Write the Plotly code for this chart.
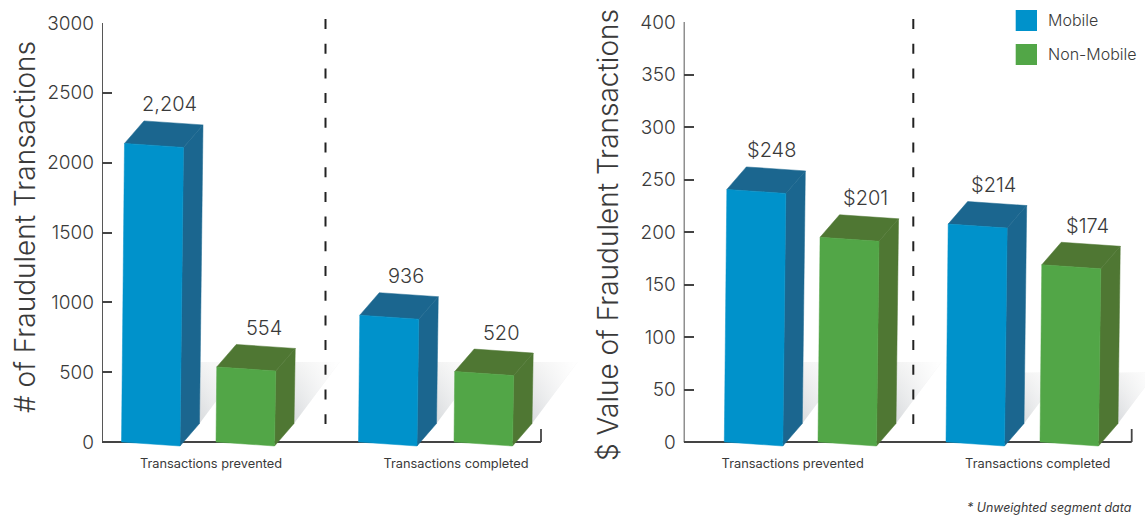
import plotly.graph_objects as go

# Data
categories = ["Transactions prevented", "Transactions completed"]
series_names = ["Mobile", "Non-Mobile"]
count_mobile = [2204, 936]
count_non_mobile = [554, 520]
value_mobile = [248, 214]
value_non_mobile = [201, 174]
count_ticks = [0, 500, 1000, 1500, 2000, 2500, 3000]
value_ticks = [0, 50, 100, 150, 200, 250, 300, 350, 400]
count_title = "# of Fraudulent Transactions"
value_title = "$ Value of Fraudulent Transactions"
footnote = "* Unweighted segment data"

# Page and styling
W, H = 1145, 517
FONT = "Inter"
TEXT = "#3a3a3a"
AXIS = "#444444"
FRONT = {"Mobile": "#0092cb", "Non-Mobile": "#52a647"}
DARK = {"Mobile": "#1b668f", "Non-Mobile": "#4f7733"}

# Bar projection, in pixels
BAR_W = 59.0
DEPTH_X, DEPTH_Y = 19.5, 22.5
TILT = 4.0          # right-hand corners sit lower than left-hand ones
LEAN = 0.01         # bars lean slightly to the right as they rise
FORESHORTEN = 0.97  # front faces read slightly short of the wall scale

BASE_PX = 442.0
FLOOR_PX = 450.0    # plot area runs a little below the baseline for the bar corners


def panel_def(suffix, left, line_end, right, top, ymax, ticks, mobile, non_mobile, slots,
              shadow_tops, label_fmt):
    return dict(suffix=suffix, left=left, line_end=line_end, right=right, top=top, ymax=ymax,
                ticks=ticks, mobile=mobile, non_mobile=non_mobile, slots=slots,
                shadow_tops=shadow_tops, label_fmt=label_fmt)


panels = [
    panel_def("", 102.0, 541.0, 600.0, 23.0, 3000, count_ticks, count_mobile, count_non_mobile,
              [(19.5, 114.0), (256.5, 352.0)], [80, 80], "{:,}"),
    panel_def("2", 683.7, 1131.7, 1145.0, 22.0, 400, value_ticks, value_mobile, value_non_mobile,
              [(40.6, 134.3), (262.3, 356.3)], [80, 69.5], "${}"),
]

fig = go.Figure()
annotations = []
shapes = []
under, over = [], []

for p in panels:
    xa, ya = "x" + p["suffix"], "y" + p["suffix"]
    unit = p["ymax"] / (BASE_PX - p["top"])  # axis units per pixel
    p["unit"] = unit

    for g, pair in enumerate(zip(p["mobile"], p["non_mobile"])):
        for s, v in enumerate(pair):
            name = series_names[s]
            x0 = p["slots"][g][s]
            top = v * FORESHORTEN
            rise = top / unit
            lean = rise * LEAN
            tilt = TILT * unit
            dy = DEPTH_Y * unit

            # front corners: bottom-left, bottom-right, top-right, top-left
            fx = [x0, x0 + BAR_W - 0.5, x0 + BAR_W + lean, x0 + lean]
            fy = [0, -tilt, top - tilt, top]

            # floor shadow thrown up and to the right
            sx = fx[1] + DEPTH_X
            sy = -tilt + dy
            stop = p["shadow_tops"][g] * unit
            run = (stop - sy) / unit / 1.35
            poly_x = [sx - 6, sx + run, sx, sx - 6, sx - 6]
            poly_y = [stop, stop, sy, sy, stop]
            under.append(go.Scatter(
                x=poly_x, y=poly_y, xaxis=xa, yaxis=ya, mode="none", fill="toself",
                hoverinfo="skip", showlegend=False,
                fillgradient=dict(type="vertical",
                                  colorscale=[[0, "#d3d6d9"], [1, "#f2f2f2"]])))
            under.append(go.Scatter(
                x=poly_x, y=poly_y, xaxis=xa, yaxis=ya, mode="none", fill="toself",
                hoverinfo="skip", showlegend=False,
                fillgradient=dict(type="horizontal",
                                  colorscale=[[0, "rgba(255,255,255,0)"],
                                              [1, "rgba(255,255,255,1)"]])))

            # side face
            over.append(go.Scatter(
                x=[fx[1], fx[1] + DEPTH_X, fx[2] + DEPTH_X, fx[2], fx[1]],
                y=[fy[1], fy[1] + dy, fy[2] + dy, fy[2], fy[1]],
                xaxis=xa, yaxis=ya, mode="lines", fill="toself",
                line=dict(color=DARK[name], width=0.5), fillcolor=DARK[name],
                hoverinfo="skip", showlegend=False))
            # top face
            over.append(go.Scatter(
                x=[fx[3], fx[2], fx[2] + DEPTH_X, fx[3] + DEPTH_X, fx[3]],
                y=[fy[3], fy[2], fy[2] + dy, fy[3] + dy, fy[3]],
                xaxis=xa, yaxis=ya, mode="lines", fill="toself",
                line=dict(color=DARK[name], width=0.5), fillcolor=DARK[name],
                hoverinfo="skip", showlegend=False))
            # front face
            over.append(go.Scatter(
                x=fx + fx[:1], y=fy + fy[:1],
                xaxis=xa, yaxis=ya, mode="lines", fill="toself",
                line=dict(color=FRONT[name], width=0.5), fillcolor=FRONT[name],
                name=name, text=f"{categories[g]}: {p['label_fmt'].format(v)}",
                hoverinfo="text", showlegend=False))

            annotations.append(dict(
                x=x0 + 47.5, y=top + dy, xref=xa, yref=ya, yanchor="bottom", yshift=2.5,
                text=p["label_fmt"].format(v), showarrow=False,
                font=dict(family=FONT, size=20, color=TEXT, weight=300)))

    # spine, baseline and the closing tick at the right end of the baseline
    width = p["line_end"] - p["left"]
    spine = dict(color=AXIS, width=1.8)
    shapes.append(dict(type="line", layer="below", xref=xa, yref=ya, x0=0, x1=0,
                       y0=0, y1=p["ymax"], line=spine))
    shapes.append(dict(type="line", layer="below", xref=xa, yref=ya, x0=0, x1=width,
                       y0=0, y1=0, line=spine))
    shapes.append(dict(type="line", layer="below", xref=xa, yref=ya, x0=width, x1=width,
                       y0=0, y1=13 * unit, line=spine))

for t in under + over:
    fig.add_trace(t)

# Dashed dividers between the two outcome groups
for xpx in (325.5, 913.3):
    shapes.append(dict(type="line", xref="paper", yref="paper", x0=xpx / W, x1=xpx / W,
                       y0=1 - 19 / H, y1=1 - 424 / H,
                       line=dict(color="#222222", width=2, dash="10px,14.7px")))

# Legend swatches and names
for i, name in enumerate(series_names):
    y_top = 10 + i * 34
    shapes.append(dict(type="rect", xref="paper", yref="paper",
                       x0=1015.7 / W, x1=1037 / W, y0=1 - y_top / H, y1=1 - (y_top + 21) / H,
                       fillcolor=FRONT[name], line=dict(width=0)))
    annotations.append(dict(x=1046 / W, y=1 - (y_top + 9.5) / H, xref="paper", yref="paper",
                            xanchor="left", yanchor="middle", text=name, showarrow=False,
                            font=dict(family=FONT, size=16, color=TEXT, weight=300)))

# Axis titles and footnote
annotations.append(dict(x=25 / W, y=1 - 227 / H, xref="paper", yref="paper", text=count_title,
                        xanchor="center", yanchor="middle", textangle=-90, showarrow=False,
                        font=dict(family=FONT, size=28, color=TEXT, weight=300)))
annotations.append(dict(x=608 / W, y=1 - 235 / H, xref="paper", yref="paper", text=value_title,
                        xanchor="center", yanchor="middle", textangle=-90, showarrow=False,
                        font=dict(family=FONT, size=28, color=TEXT, weight=300)))
annotations.append(dict(x=1134 / W, y=1 - 508 / H, xref="paper", yref="paper", xanchor="right",
                        yanchor="middle", text=f"<i>{footnote}</i>", showarrow=False,
                        font=dict(family=FONT, size=12.4, color=TEXT)))


def x_axis(p):
    return dict(domain=[p["left"] / W, p["right"] / W], range=[0, p["right"] - p["left"]],
                anchor="y" + p["suffix"], tickmode="array", tickvals=[109, 354], ticktext=categories,
                ticks="", showgrid=False, zeroline=False, showline=False,
                layer="below traces", ticklabelstandoff=4, automargin=False,
                tickfont=dict(family=FONT, size=12.8, color=TEXT))


def y_axis(p):
    low = -(FLOOR_PX - BASE_PX) * p["unit"]
    return dict(domain=[1 - FLOOR_PX / H, 1 - p["top"] / H], range=[low, p["ymax"]],
                anchor="x" + p["suffix"], tickmode="array", tickvals=p["ticks"],
                ticks="inside", ticklen=10, tickwidth=1.8, tickcolor=AXIS, showgrid=False,
                zeroline=False, showline=False,
                layer="below traces", ticklabelstandoff=7, automargin=False,
                tickfont=dict(family=FONT, size=19, color=TEXT, weight=300))


fig.update_layout(
    width=W, height=H, margin=dict(l=0, r=0, t=0, b=0),
    paper_bgcolor="white", plot_bgcolor="rgba(0,0,0,0)", showlegend=False,
    xaxis=x_axis(panels[0]), yaxis=y_axis(panels[0]),
    xaxis2=x_axis(panels[1]), yaxis2=y_axis(panels[1]),
    shapes=shapes, annotations=annotations,
)

fig.write_html("out.html")
